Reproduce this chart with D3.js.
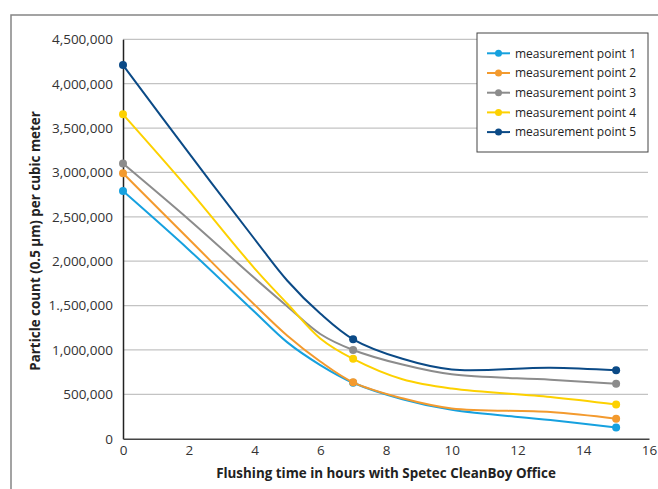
<!DOCTYPE html>
<html>
<head>
<meta charset="utf-8">
<script src="https://cdn.jsdelivr.net/npm/d3@7"></script>
<style>
  body { margin: 0; background: #fff; }
  text { font-family: "Open Sans", "Noto Sans", sans-serif; }
</style>
</head>
<body>
<script>
// flushing time (h) at which values were read
var hours = [0, 2, 4, 5, 6, 7, 8.5, 10, 13, 15];
var markerHours = [0, 7, 15];

var point1 = [2790000, 2130000, 1430000, 1085000, 830000, 630000, 445000, 325000, 210000, 125000];
var point2 = [2990000, 2250000, 1510000, 1160000, 870000, 635000, 455000, 340000, 300000, 225000];
var point3 = [3100000, 2470000, 1810000, 1490000, 1180000, 1000000, 835000, 725000, 665000, 620000];
var point4 = [3655000, 2810000, 1920000, 1520000, 1130000, 900000, 670000, 565000, 470000, 385000];
var point5 = [4210000, 3220000, 2250000, 1780000, 1410000, 1120000, 900000, 780000, 800000, 770000];

var seriesNames = ["measurement point 1", "measurement point 2", "measurement point 3",
                   "measurement point 4", "measurement point 5"];
var seriesColors = ["#16a1df", "#f39a2e", "#8c8c8c", "#fdd100", "#0b4a86"];

var xTicks = [0, 2, 4, 6, 8, 10, 12, 14, 16];
var yTicks = [0, 500000, 1000000, 1500000, 2000000, 2500000, 3000000, 3500000, 4000000, 4500000];
var yTickLabels = ["0", "500,000", "1,000,000", "1.,500,000", "2,000,000", "2,500,000",
                   "3,000,000", "3,500,000", "4,000,000", "4,500,000"];

var W = 658, H = 489;
var plotL = 123, plotR = 649, plotT = 39.3, plotB = 438.7;

var svg = d3.select("body").append("svg")
    .attr("width", W)
    .attr("height", H);

// outer frame (runs off the right and bottom of the picture)
svg.append("path")
    .attr("d", "M11,489 L11,15 L658,15")
    .attr("fill", "none")
    .attr("stroke", "#858585")
    .attr("stroke-width", 1.5);

var x = d3.scaleLinear().domain([0, 16]).range([plotL, plotR]);
var y = d3.scaleLinear().domain([0, 4500000]).range([plotB, plotT]);

// gridlines
svg.append("g").selectAll("line")
    .data(yTicks.slice(1))
  .enter().append("line")
    .attr("x1", plotL).attr("x2", plotR - 1)
    .attr("y1", function(d){ return y(d); })
    .attr("y2", function(d){ return y(d); })
    .attr("stroke", "#c3c3c3")
    .attr("stroke-width", 1.3);

// y axis
var yAxis = d3.axisLeft(y)
    .tickValues(yTicks)
    .tickSize(0)
    .tickPadding(10)
    .tickFormat(function(d, i){ return yTickLabels[i]; });
var gy = svg.append("g").attr("transform", "translate(" + plotL + ",0)").call(yAxis);
gy.select(".domain").attr("stroke", "#222").attr("stroke-width", 1.5);
gy.selectAll("text").attr("font-size", "13.5px").attr("fill", "#333")
    .attr("font-family", "'Open Sans', sans-serif");

// x axis
var xAxis = d3.axisBottom(x)
    .tickValues(xTicks)
    .tickSize(0)
    .tickPadding(7)
    .tickFormat(d3.format("d"));
var gx = svg.append("g").attr("transform", "translate(0," + plotB + ")").call(xAxis);
gx.select(".domain").attr("stroke", "#444").attr("stroke-width", 1.5);
gx.selectAll("text").attr("font-size", "13.5px").attr("fill", "#333")
    .attr("font-family", "'Open Sans', sans-serif");

// axis titles
svg.append("text")
    .attr("x", (plotL + plotR) / 2)
    .attr("y", 478)
    .attr("text-anchor", "middle")
    .attr("font-size", "13.4px")
    .attr("font-weight", "bold")
    .attr("fill", "#222")
    .text("Flushing time in hours with Spetec CleanBoy Office");

svg.append("text")
    .attr("transform", "translate(40," + ((plotT + plotB) / 2 + 2) + ") rotate(-90)")
    .attr("text-anchor", "middle")
    .attr("font-size", "13.4px")
    .attr("font-weight", "bold")
    .attr("fill", "#222")
    .text("Particle count (0.5 µm) per cubic meter");

// lines
var allSeries = [point1, point2, point3, point4, point5];
var line = d3.line()
    .x(function(d){ return x(d[0]); })
    .y(function(d){ return y(d[1]); })
    .curve(d3.curveCatmullRom.alpha(0.5));

allSeries.forEach(function(vals, i) {
  var pts = hours.map(function(h, j){ return [h, vals[j]]; });
  svg.append("path")
      .datum(pts)
      .attr("d", line)
      .attr("fill", "none")
      .attr("stroke", seriesColors[i])
      .attr("stroke-width", 2);
  svg.append("g").selectAll("circle")
      .data(pts.filter(function(p){ return markerHours.indexOf(p[0]) >= 0; }))
    .enter().append("circle")
      .attr("cx", function(d){ return x(d[0]); })
      .attr("cy", function(d){ return y(d[1]); })
      .attr("r", 4)
      .attr("fill", seriesColors[i]);
});

// legend
var lg = svg.append("g").attr("transform", "translate(477,33)");
lg.append("rect")
    .attr("width", 171).attr("height", 119)
    .attr("fill", "#fff")
    .attr("stroke", "#444")
    .attr("stroke-width", 1);
var item = lg.selectAll(".item")
    .data(seriesNames)
  .enter().append("g")
    .attr("class", "item")
    .attr("transform", function(d, i){ return "translate(0," + (20.3 + i * 19.7) + ")"; });
item.append("line")
    .attr("x1", 10).attr("x2", 33)
    .attr("stroke", function(d, i){ return seriesColors[i]; })
    .attr("stroke-width", 2);
item.append("circle")
    .attr("cx", 21.5).attr("r", 3.5)
    .attr("fill", function(d, i){ return seriesColors[i]; });
item.append("text")
    .attr("x", 38)
    .attr("dy", "0.35em")
    .attr("font-size", "12px")
    .attr("fill", "#222")
    .text(function(d){ return d; });
</script>
</body>
</html>
